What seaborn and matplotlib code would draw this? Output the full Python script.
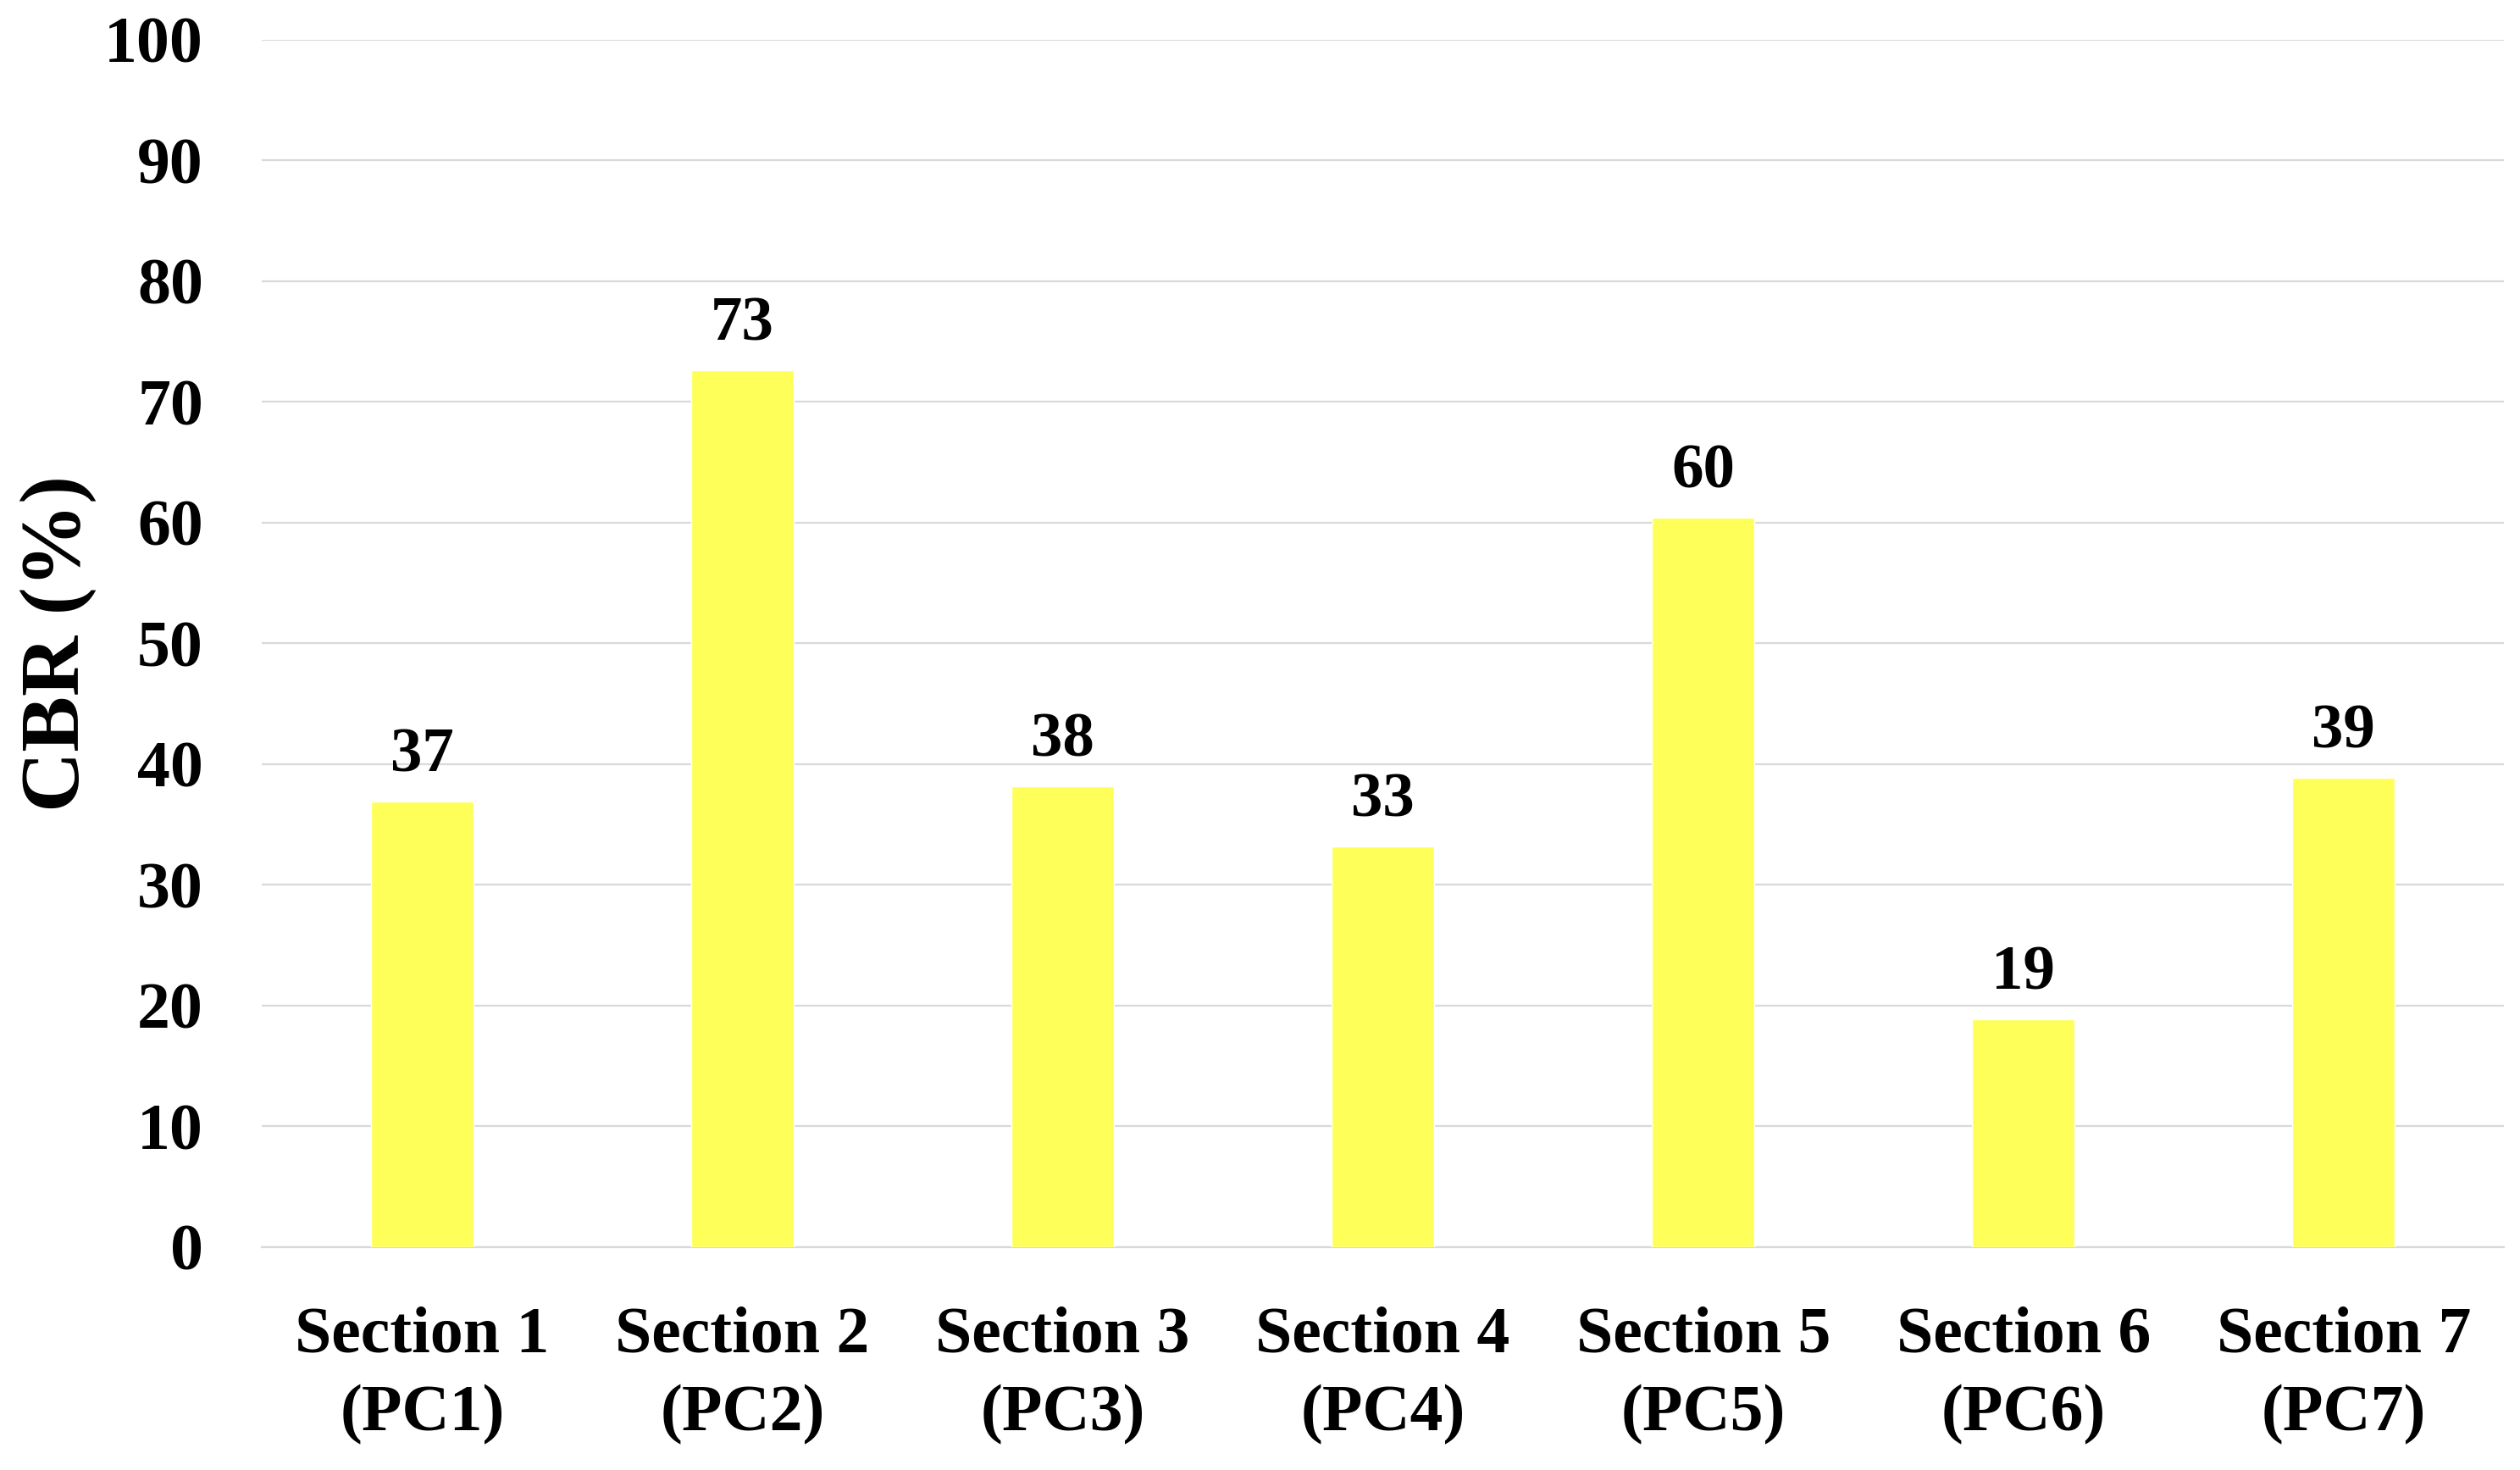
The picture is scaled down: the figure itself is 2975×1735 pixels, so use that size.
import numpy as np
import pandas as pd
import matplotlib
matplotlib.use("Agg")
import matplotlib.pyplot as plt
from matplotlib.ticker import FixedLocator
import seaborn as sns

# values
sections = ["Section 1\n(PC1)", "Section 2\n(PC2)", "Section 3\n(PC3)", "Section 4\n(PC4)",
            "Section 5\n(PC5)", "Section 6\n(PC6)", "Section 7\n(PC7)"]
cbr = [36.9, 72.6, 38.2, 33.2, 60.4, 18.9, 38.9]
yticks = [0, 10, 20, 30, 40, 50, 60, 70, 80, 90, 100]

df = pd.DataFrame({"section": sections, "cbr": cbr})

sns.set_style("white")
plt.rcParams['font.family'] = ['Liberation Serif', 'DejaVu Serif']
plt.rcParams['font.weight'] = 'bold'
plt.rcParams['text.color'] = 'black'
plt.rcParams['axes.labelcolor'] = 'black'
plt.rcParams['xtick.labelcolor'] = 'black'
plt.rcParams['ytick.labelcolor'] = 'black'

fig = plt.figure(figsize=(29.75, 17.35), dpi=100)
ax = fig.add_axes([0.104, 0.1516, 0.8896, 0.8214])

sns.barplot(data=df, x="section", y="cbr", color="#FFFF59", width=0.32,
            saturation=1, ax=ax, zorder=3)

ax.set_ylim(0, 100)
ax.set_xlim(-0.5, len(sections) - 0.5)
ax.set_yticks(yticks)
ax.yaxis.grid(True, color="#d9d9d9", linewidth=1.6, zorder=0)
ax.set_axisbelow(True)

for s in ["top", "right", "left"]:
    ax.spines[s].set_visible(False)
ax.spines["bottom"].set_color("#d9d9d9")
ax.spines["bottom"].set_linewidth(1.6)

ax.tick_params(axis="y", length=0, pad=50, labelsize=56, labelcolor="black")
ax.tick_params(axis="x", which="major", length=0, pad=50, labelsize=56, labelcolor="black")
ax.xaxis.set_minor_locator(FixedLocator(np.arange(-0.5, len(sections), 1.0)))
ax.tick_params(axis="x", which="minor", length=19, width=1.6, color="#d9d9d9")
for lbl in ax.get_xticklabels():
    lbl.set_fontweight("bold")
    lbl.set_linespacing(1.4)
for lbl in ax.get_yticklabels():
    lbl.set_fontweight("bold")

ax.set_xlabel("")
ax.set_ylabel("CBR (%)", fontsize=71, fontweight="bold", color="black")
ax.yaxis.set_label_coords(-0.074, 0.5)

ax.bar_label(ax.containers[0], fmt="%.0f", padding=14, fontsize=54,
             fontweight="bold", color="black")

fig.savefig("out.png", dpi=100)
